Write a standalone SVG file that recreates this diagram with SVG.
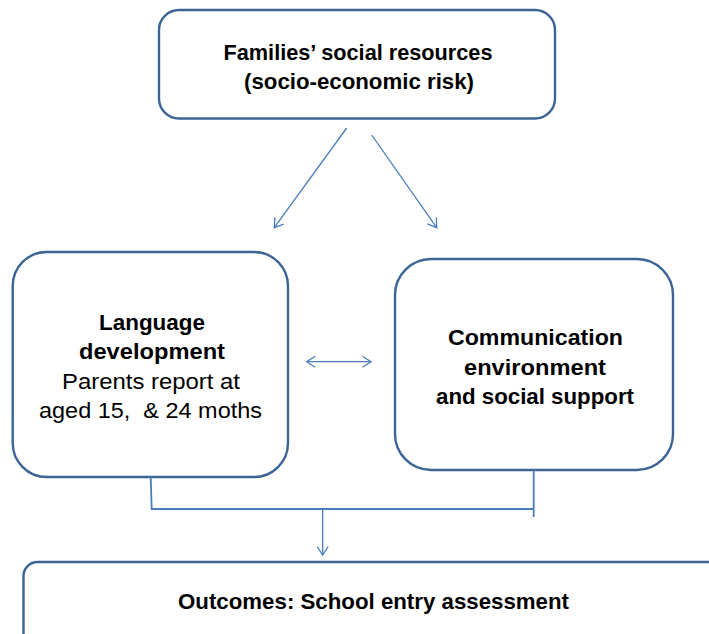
<svg xmlns="http://www.w3.org/2000/svg" width="709" height="634" viewBox="0 0 709 634">
  <defs>
    <style>
      .box { fill: #ffffff; stroke: #3c6595; stroke-width: 2.4; }
      .conn { fill: none; stroke: #4a7ebb; stroke-width: 1.3; }
      .elbow { fill: none; stroke: #4a7ebb; stroke-width: 1.8; }
      .b { font-family: "Liberation Sans", Arial, sans-serif; font-weight: bold; font-size: 21.5px; fill: #000000; text-anchor: middle; }
      .r { font-family: "Liberation Sans", Arial, sans-serif; font-weight: normal; font-size: 21.5px; fill: #000000; text-anchor: middle; }
    </style>
    <marker id="arr" viewBox="-10 -7 12 14" refX="0" refY="0" markerWidth="12" markerHeight="14" markerUnits="userSpaceOnUse" orient="auto-start-reverse">
      <path d="M-8.5,-5.5 L0,0 L-8.5,5.5" fill="none" stroke="#4a7ebb" stroke-width="1.3"/>
    </marker>
  </defs>
  <rect width="709" height="634" fill="#ffffff"/>

  <g id="node-families">
    <rect class="box" x="159" y="10" width="396" height="108.5" rx="20" ry="20"/>
    <text class="b" x="358" y="60" textLength="269" lengthAdjust="spacingAndGlyphs">Families’ social resources</text>
    <text class="b" x="359" y="89" textLength="230" lengthAdjust="spacingAndGlyphs">(socio-economic risk)</text>
  </g>

  <g id="node-language">
    <rect class="box" x="12.7" y="252" width="275.3" height="225" rx="34" ry="34"/>
    <text class="b" x="152" y="330" textLength="106" lengthAdjust="spacingAndGlyphs">Language</text>
    <text class="b" x="152" y="359" textLength="146" lengthAdjust="spacingAndGlyphs">development</text>
    <text class="r" x="151" y="389" textLength="178" lengthAdjust="spacingAndGlyphs">Parents report at</text>
    <text class="r" x="150.5" y="418" textLength="223" lengthAdjust="spacingAndGlyphs" xml:space="preserve">aged 15,  &amp; 24 moths</text>
  </g>

  <g id="node-communication">
    <rect class="box" x="395" y="259" width="278" height="211" rx="36" ry="36"/>
    <text class="b" x="535.5" y="345" textLength="175" lengthAdjust="spacingAndGlyphs">Communication</text>
    <text class="b" x="535" y="375" textLength="142" lengthAdjust="spacingAndGlyphs">environment</text>
    <text class="b" x="535" y="404" textLength="198" lengthAdjust="spacingAndGlyphs">and social support</text>
  </g>

  <g id="node-outcomes">
    <rect class="box" x="23.5" y="562" width="730" height="110" rx="14" ry="14"/>
    <text class="b" x="373.5" y="609" textLength="391" lengthAdjust="spacingAndGlyphs">Outcomes: School entry assessment</text>
  </g>

  <g id="connectors">
    <line class="conn" x1="346.7" y1="128" x2="274.3" y2="227.7" marker-end="url(#arr)"/>
    <line class="conn" x1="371.7" y1="135" x2="436.7" y2="227.7" marker-end="url(#arr)"/>
    <line class="conn" x1="306.7" y1="361.7" x2="371" y2="361.7" marker-start="url(#arr)" marker-end="url(#arr)"/>
    <polyline class="elbow" points="150.7,477 151.7,509 533.7,509"/>
    <line class="elbow" x1="533.7" y1="470" x2="533.7" y2="517"/>
    <line class="conn" x1="322.7" y1="509" x2="322.7" y2="555" marker-end="url(#arr)"/>
  </g>
</svg>
